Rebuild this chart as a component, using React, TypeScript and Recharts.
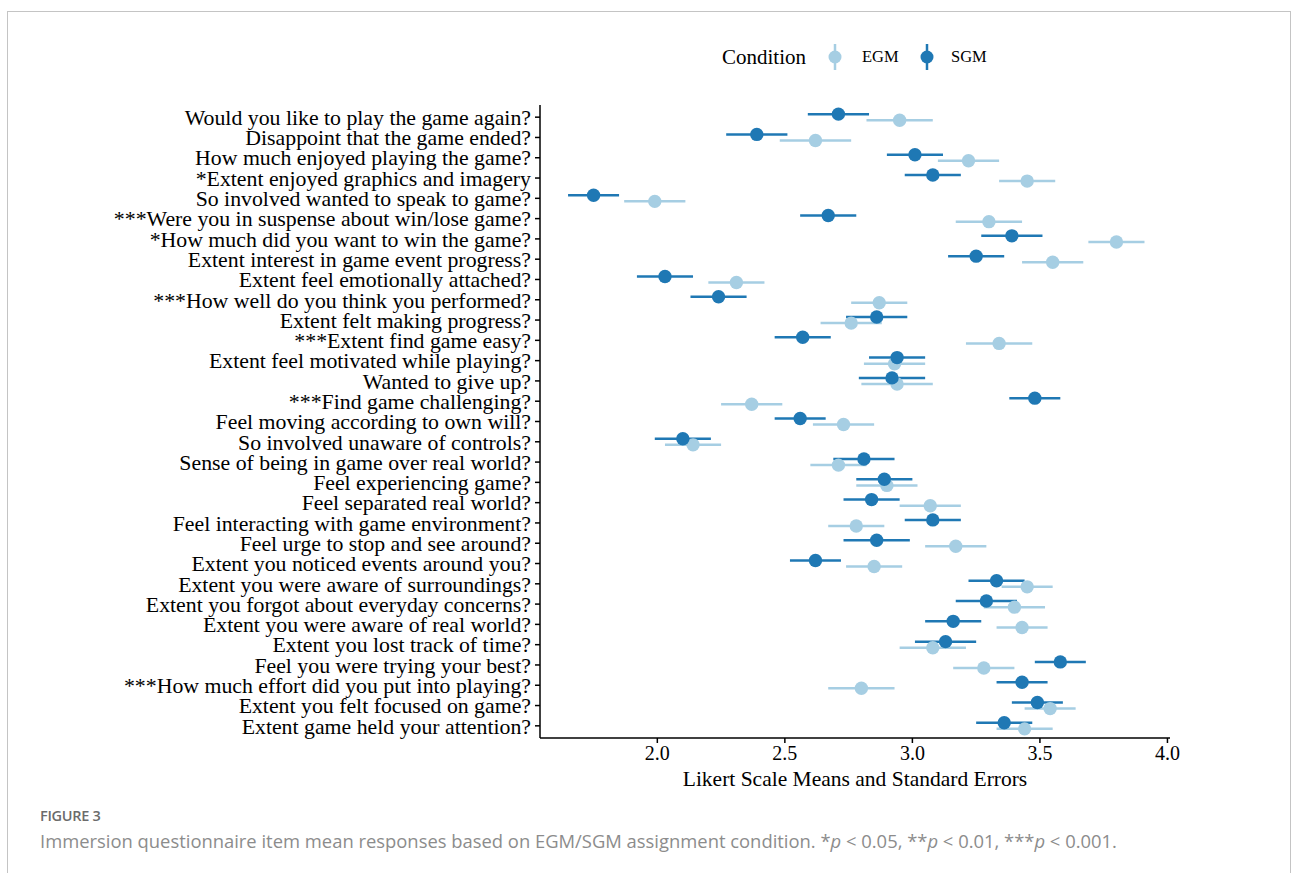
import React from "react"
import { ScatterChart, Scatter, XAxis, YAxis, ErrorBar } from "recharts"

const questions = [
  "Would you like to play the game again?",
  "Disappoint that the game ended?",
  "How much enjoyed playing the game?",
  "*Extent enjoyed graphics and imagery",
  "So involved wanted to speak to game?",
  "***Were you in suspense about win/lose game?",
  "*How much did you want to win the game?",
  "Extent interest in game event progress?",
  "Extent feel emotionally attached?",
  "***How well do you think you performed?",
  "Extent felt making progress?",
  "***Extent find game easy?",
  "Extent feel motivated while playing?",
  "Wanted to give up?",
  "***Find game challenging?",
  "Feel moving according to own will?",
  "So involved unaware of controls?",
  "Sense of being in game over real world?",
  "Feel experiencing game?",
  "Feel separated real world?",
  "Feel interacting with game environment?",
  "Feel urge to stop and see around?",
  "Extent you noticed events around you?",
  "Extent you were aware of surroundings?",
  "Extent you forgot about everyday concerns?",
  "Extent you were aware of real world?",
  "Extent you lost track of time?",
  "Feel you were trying your best?",
  "***How much effort did you put into playing?",
  "Extent you felt focused on game?",
  "Extent game held your attention?",
]

const sgmMean = [
  2.71, 2.39, 3.01, 3.08, 1.75, 2.67, 3.39, 3.25, 2.03, 2.24, 2.86,
  2.57, 2.94, 2.92, 3.48, 2.56, 2.10, 2.81, 2.89, 2.84, 3.08,
  2.86, 2.62, 3.33, 3.29, 3.16, 3.13, 3.58, 3.43, 3.49, 3.36,
]
const sgmSe = [
  0.12, 0.12, 0.11, 0.11, 0.10, 0.11, 0.12, 0.11, 0.11, 0.11, 0.12,
  0.11, 0.11, 0.13, 0.10, 0.10, 0.11, 0.12, 0.11, 0.11, 0.11,
  0.13, 0.10, 0.11, 0.12, 0.11, 0.12, 0.10, 0.10, 0.10, 0.11,
]
const egmMean = [
  2.95, 2.62, 3.22, 3.45, 1.99, 3.30, 3.80, 3.55, 2.31, 2.87, 2.76,
  3.34, 2.93, 2.94, 2.37, 2.73, 2.14, 2.71, 2.90, 3.07, 2.78,
  3.17, 2.85, 3.45, 3.40, 3.43, 3.08, 3.28, 2.80, 3.54, 3.44,
]
const egmSe = [
  0.13, 0.14, 0.12, 0.11, 0.12, 0.13, 0.11, 0.12, 0.11, 0.11, 0.12,
  0.13, 0.12, 0.14, 0.12, 0.12, 0.11, 0.11, 0.12, 0.12, 0.11,
  0.12, 0.11, 0.10, 0.12, 0.10, 0.13, 0.12, 0.13, 0.10, 0.11,
]

const xTicks = [2.0, 2.5, 3.0, 3.5, 4.0]

const EGM_COLOR = "#a6cee3"
const SGM_COLOR = "#1f78b4"
const SERIF = "'Liberation Serif', 'Times New Roman', serif"
const SANS = "'Open Sans', Lato, sans-serif"

// small vertical dodge, SGM above, EGM below
const dodge = 0.15

const sgmData = questions.map((q, i) => ({ q, x: sgmMean[i], y: i - dodge, err: sgmSe[i] }))
const egmData = questions.map((q, i) => ({ q, x: egmMean[i], y: i + dodge, err: egmSe[i] }))
const yTicks = questions.map((_, i) => i)

const Dot = (props: any) => {
  const { cx, cy, fill } = props
  return <circle cx={cx} cy={cy} r={6.7} fill={fill} />
}
const NoDot = () => <g />

function LegendKey({ color }: { color: string }) {
  return (
    <svg width={16} height={28} style={{ display: "block" }}>
      <line x1={8} x2={8} y1={1} y2={27} stroke={color} strokeWidth={2.5} />
      <circle cx={8} cy={14} r={6.5} fill={color} />
    </svg>
  )
}

export default function App() {
  return (
    <div style={{ position: "absolute", left: 0, top: 0, width: 1293, height: 873, background: "#fff", overflow: "hidden" }}>
      <div
        style={{
          position: "absolute",
          left: 7,
          top: 11,
          width: 1284,
          height: 900,
          border: "1.5px solid #c4c4c4",
          boxSizing: "border-box",
        }}
      />

      {/* legend */}
      <div style={{ position: "absolute", left: 722, top: 44, fontFamily: SERIF, fontSize: 21, color: "#000", lineHeight: "26px" }}>
        Condition
      </div>
      <div style={{ position: "absolute", left: 827, top: 43 }}>
        <LegendKey color={EGM_COLOR} />
      </div>
      <div style={{ position: "absolute", left: 862, top: 47, fontFamily: SERIF, fontSize: 16.5, lineHeight: "20px" }}>EGM</div>
      <div style={{ position: "absolute", left: 919, top: 43 }}>
        <LegendKey color={SGM_COLOR} />
      </div>
      <div style={{ position: "absolute", left: 951, top: 47, fontFamily: SERIF, fontSize: 16.5, lineHeight: "20px" }}>SGM</div>

      <div style={{ position: "absolute", left: 0, top: 0 }}>
        <ScatterChart width={1293} height={800} margin={{ top: 105, right: 123, bottom: 22, left: 0 }}>
          <XAxis
            type="number"
            dataKey="x"
            domain={[1.54, 4.01]}
            ticks={xTicks}
            allowDataOverflow
            tickFormatter={(v: number) => v.toFixed(1)}
            tick={{ fontSize: 20, fill: "#000", fontFamily: SERIF }}
            tickSize={5}
            tickMargin={3}
            height={40}
            axisLine={{ stroke: "#000", strokeWidth: 1.5 }}
            tickLine={{ stroke: "#000", strokeWidth: 1.5 }}
          />
          <YAxis
            type="number"
            dataKey="y"
            domain={[-0.6, 30.6]}
            reversed
            ticks={yTicks}
            interval={0}
            allowDataOverflow
            tickFormatter={(v: number) => questions[v] ?? ""}
            tick={{ fontSize: 21.8, fill: "#000", fontFamily: SERIF }}
            tickSize={5}
            tickMargin={4}
            width={540}
            axisLine={{ stroke: "#000", strokeWidth: 1.5 }}
            tickLine={{ stroke: "#000", strokeWidth: 1.5 }}
          />
          <Scatter data={egmData} shape={NoDot} fill={EGM_COLOR} isAnimationActive={false}>
            <ErrorBar dataKey="err" direction="x" width={0} stroke={EGM_COLOR} strokeWidth={2.5} isAnimationActive={false} />
          </Scatter>
          <Scatter data={sgmData} shape={NoDot} fill={SGM_COLOR} isAnimationActive={false}>
            <ErrorBar dataKey="err" direction="x" width={0} stroke={SGM_COLOR} strokeWidth={2.5} isAnimationActive={false} />
          </Scatter>
          <Scatter data={egmData} shape={Dot} fill={EGM_COLOR} isAnimationActive={false} />
          <Scatter data={sgmData} shape={Dot} fill={SGM_COLOR} isAnimationActive={false} />
        </ScatterChart>
      </div>

      <div
        style={{
          position: "absolute",
          left: 555,
          width: 600,
          top: 766,
          textAlign: "center",
          fontFamily: SERIF,
          fontSize: 21.5,
          color: "#000",
          lineHeight: "26px",
        }}
      >
        Likert Scale Means and Standard Errors
      </div>

      {/* caption */}
      <div style={{ position: "absolute", left: 40, top: 806, fontFamily: SANS, fontSize: 14.5, fontWeight: 600, color: "#6b6b6b", letterSpacing: -0.3 }}>
        FIGURE 3
      </div>
      <div style={{ position: "absolute", left: 40, top: 828, fontFamily: SANS, fontSize: 18.4, color: "#8c8c8c" }}>
        Immersion questionnaire item mean responses based on EGM/SGM assignment condition. *<i>p</i> &lt; 0.05, **<i>p</i> &lt; 0.01, ***<i>p</i> &lt; 0.001.
      </div>
    </div>
  )
}
